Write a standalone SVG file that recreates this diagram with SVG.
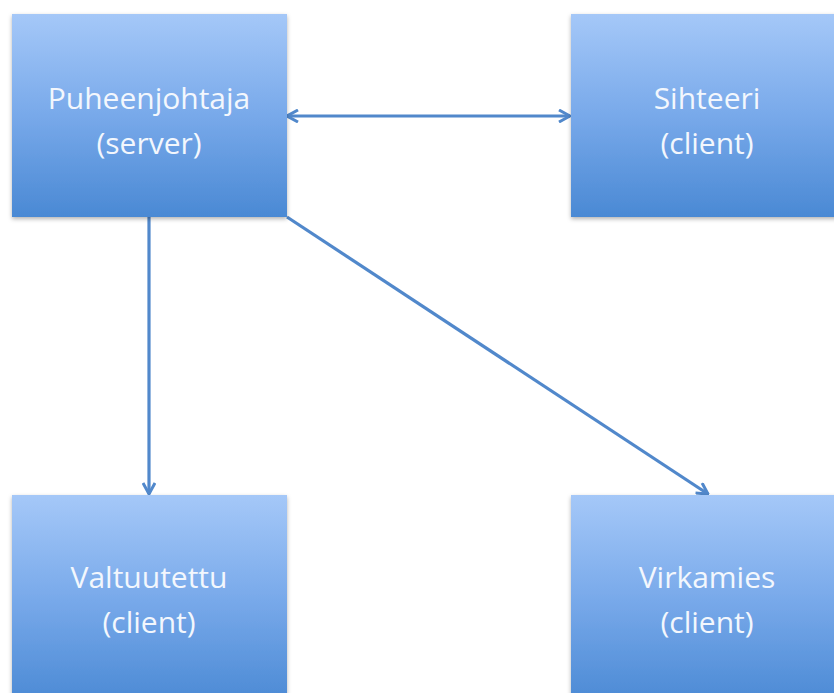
<svg xmlns="http://www.w3.org/2000/svg" width="834" height="693" viewBox="0 0 834 693">
<style>
.box{fill:url(#g);filter:url(#sh)}
.t{font-family:"Open Sans","Liberation Sans",sans-serif;font-size:30px;fill:#f3f7fd;text-anchor:middle}
.c{stroke:#5188cb;stroke-width:3.2;fill:none}
</style>
<defs>
<linearGradient id="g" x1="0" y1="0" x2="0" y2="1">
<stop offset="0" stop-color="#a5c8f8"/>
<stop offset="0.5" stop-color="#78a9ea"/>
<stop offset="1" stop-color="#4a89d4"/>
</linearGradient>
<filter id="sh" x="-5%" y="-5%" width="115%" height="115%">
<feDropShadow dx="0" dy="2" stdDeviation="2" flood-color="#000" flood-opacity="0.3"/>
</filter>
<marker id="a" viewBox="0 0 14 14" refX="12.5" refY="7" markerWidth="14" markerHeight="14" markerUnits="userSpaceOnUse" orient="auto-start-reverse">
<path d="M1.5,1 L12.5,7 L1.5,13" fill="none" stroke="#5188cb" stroke-width="3"/>
</marker>
</defs>
<g id="connectors">
<line class="c" x1="287" y1="116" x2="570" y2="116" marker-start="url(#a)" marker-end="url(#a)"/>
<line class="c" x1="149" y1="217" x2="149" y2="494" marker-end="url(#a)"/>
<line class="c" x1="287" y1="217" x2="708" y2="494" marker-end="url(#a)"/>
</g>
<g id="puheenjohtaja">
<rect class="box" x="12" y="14" width="275" height="203"/>
<text class="t" x="149" y="109">Puheenjohtaja</text>
<text class="t" x="149" y="154">(server)</text>
</g>
<g id="sihteeri">
<rect class="box" x="571" y="14" width="275" height="203"/>
<text class="t" x="707" y="109">Sihteeri</text>
<text class="t" x="707" y="154">(client)</text>
</g>
<g id="valtuutettu">
<rect class="box" x="12" y="495" width="275" height="210"/>
<text class="t" x="149" y="588">Valtuutettu</text>
<text class="t" x="149" y="633">(client)</text>
</g>
<g id="virkamies">
<rect class="box" x="571" y="495" width="275" height="210"/>
<text class="t" x="707" y="588">Virkamies</text>
<text class="t" x="707" y="633">(client)</text>
</g>
</svg>
